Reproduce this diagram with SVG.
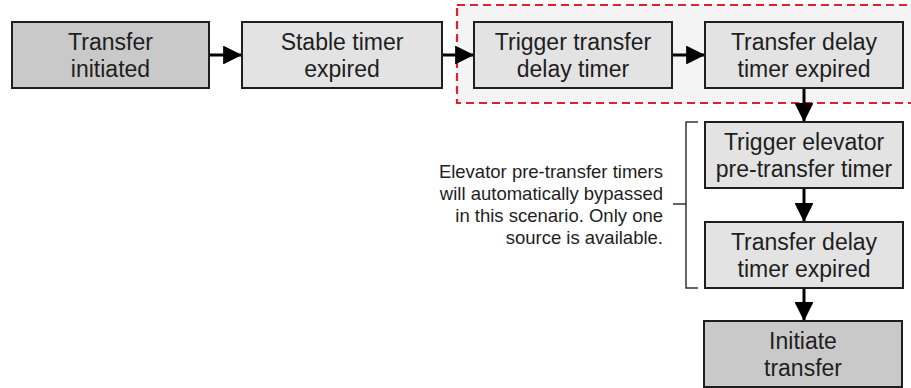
<svg xmlns="http://www.w3.org/2000/svg" width="911" height="388" viewBox="0 0 911 388">
<style>
.box{stroke:#1e1e1e;stroke-width:2}
.dark{fill:#c9c9c9}
.light{fill:#e3e3e3}
.t{font-family:"Liberation Sans",Arial,sans-serif;font-size:23px;fill:#1e1e1e;text-anchor:middle}
.note{font-family:"Liberation Sans",Arial,sans-serif;font-size:18.5px;fill:#1e1e1e;text-anchor:end}
.c{stroke:#000;stroke-width:3;fill:none}
</style>
<defs>
<marker id="ah" viewBox="0 0 10 10" refX="10" refY="5" markerWidth="7" markerHeight="6.3" markerUnits="strokeWidth" orient="auto">
<path d="M0,0 L10,5 L0,10 z" fill="#000"/>
</marker>
</defs>
<rect width="911" height="388" fill="#fff"/>
<g id="group-highlight">
<rect x="457" y="5" width="460" height="98" fill="#f4f4f4" stroke="#e0202a" stroke-width="2.2" stroke-dasharray="8,5"/>
</g>
<g id="connectors">
<line class="c" x1="209" y1="55" x2="242" y2="55" marker-end="url(#ah)"/>
<line class="c" x1="442" y1="55" x2="474" y2="55" marker-end="url(#ah)"/>
<line class="c" x1="672" y1="55" x2="705" y2="55" marker-end="url(#ah)"/>
<line class="c" x1="804" y1="88" x2="804" y2="122" marker-end="url(#ah)"/>
<line class="c" x1="804" y1="188" x2="804" y2="222" marker-end="url(#ah)"/>
<line class="c" x1="804" y1="288" x2="804" y2="321" marker-end="url(#ah)"/>
</g>
<g id="n1">
<rect class="box dark" x="12" y="22" width="197" height="66"/>
<text class="t" x="110.5" y="50">Transfer</text>
<text class="t" x="110.5" y="77">initiated</text>
</g>
<g id="n2">
<rect class="box light" x="242" y="22" width="200" height="66"/>
<text class="t" x="342" y="50">Stable timer</text>
<text class="t" x="342" y="77">expired</text>
</g>
<g id="n3">
<rect class="box light" x="474" y="22" width="198" height="66"/>
<text class="t" x="573" y="50">Trigger transfer</text>
<text class="t" x="573" y="77">delay timer</text>
</g>
<g id="n4">
<rect class="box light" x="705" y="22" width="198" height="66"/>
<text class="t" x="804" y="50">Transfer delay</text>
<text class="t" x="804" y="77">timer expired</text>
</g>
<g id="n5">
<rect class="box light" x="705" y="122" width="198" height="66"/>
<text class="t" x="804" y="150">Trigger elevator</text>
<text class="t" x="804" y="177">pre-transfer timer</text>
</g>
<g id="n6">
<rect class="box light" x="705" y="222" width="198" height="66"/>
<text class="t" x="804" y="250">Transfer delay</text>
<text class="t" x="804" y="277">timer expired</text>
</g>
<g id="n7">
<rect class="box dark" x="704" y="321" width="198" height="66"/>
<text class="t" x="803" y="349">Initiate</text>
<text class="t" x="803" y="376">transfer</text>
</g>
<g id="note">
<path d="M698,122 H686 V288 H698 M686,204 H673" fill="none" stroke="#333" stroke-width="1.5"/>
<text class="note" x="663" y="178">Elevator pre-transfer timers</text>
<text class="note" x="663" y="200">will automatically bypassed</text>
<text class="note" x="663" y="222">in this scenario. Only one</text>
<text class="note" x="663" y="244">source is available.</text>
</g>
</svg>
